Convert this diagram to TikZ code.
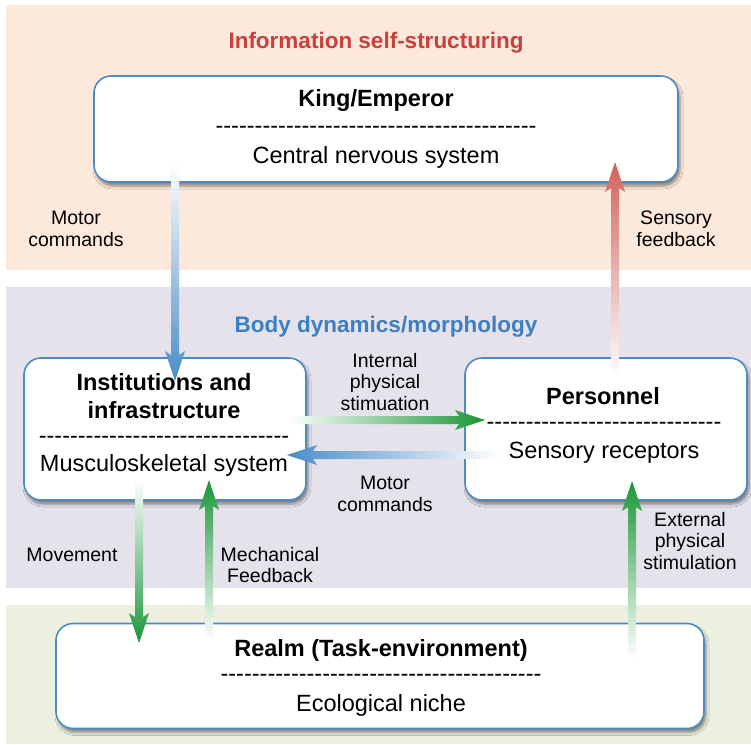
\documentclass[tikz,border=0pt]{standalone}
\usepackage{fontspec}
\setmainfont{Liberation Sans}
\usetikzlibrary{calc,shadows.blur}

\definecolor{bandpeach}{HTML}{FDE9DB}
\definecolor{bandlilac}{HTML}{E5E2EC}
\definecolor{bandgreen}{HTML}{EDF0E1}
\definecolor{titlered}{HTML}{C8413D}
\definecolor{titleblue}{HTML}{3C7FC2}
\definecolor{boxblue}{HTML}{4D8AC4}
\definecolor{arrblue}{HTML}{4A8CC8}
\definecolor{arrgreen}{HTML}{1A9638}
\definecolor{arrred}{HTML}{D0625B}

% a row of separate hyphens (kept apart so no dash ligature forms)
\newcommand\dashrow[1]{\foreach \k in {1,...,#1}{-\kern0pt}}

% block arrow with a colour gradient: #1 start, #2 tip, #3 shading keys
\newcommand\gradarrow[3]{%
  \coordinate (ga-hb) at ($(#2)!30pt!(#1)$);
  \coordinate (ga-hn) at ($(#2)!26pt!(#1)$);
  \shade[#3] ($(#1)!4pt!90:(#2)$) -- ($(ga-hn)!4pt!90:(#2)$)
    -- ($(ga-hb)!10pt!90:(#2)$) -- (#2) -- ($(ga-hb)!10pt!-90:(#2)$)
    -- ($(ga-hn)!4pt!-90:(#2)$) -- ($(#1)!4pt!-90:(#2)$) -- cycle;
}

\tikzset{
  box/.style={draw=boxblue, line width=1.6pt, fill=white, rounded corners=17pt,
    inner sep=0pt, blur shadow={shadow xshift=2pt, shadow yshift=-4pt,
    shadow blur radius=3pt, shadow opacity=45}},
  boxhead/.style={font=\fontsize{23.5}{28}\selectfont\bfseries, inner sep=0pt, align=center},
  boxsub/.style={font=\fontsize{23.5}{28}\selectfont, inner sep=0pt},
  dashes/.style={font=\fontsize{23.5}{28}\selectfont, inner sep=0pt},
  lbl/.style={font=\fontsize{19.5}{21.5}\selectfont, inner sep=0pt, align=center},
  layertitle/.style={font=\fontsize{22.5}{26}\selectfont\bfseries, inner sep=0pt},
}

\begin{document}
\begin{tikzpicture}[x=1pt,y=-1pt]
\useasboundingbox (0,0) rectangle (751,744);

% layer bands
\fill[bandpeach] (6,5) rectangle (751,270);
\fill[bandlilac] (6,287) rectangle (751,588);
\fill[bandgreen] (6,605) rectangle (751,744);

\node[layertitle, text=titlered] (info) at (376,43) {Information self-structuring};
\node[layertitle, text=titleblue] (body) at (386,327) {Body dynamics/morphology};

% boxes
\node[box, minimum width=584pt, minimum height=106pt] (king) at (386,129) {};
\node[box, minimum width=282pt, minimum height=142pt] (inst) at (165,429) {};
\node[box, minimum width=282pt, minimum height=142pt] (pers) at (606,429) {};
\node[box, minimum width=648pt, minimum height=105pt] (realm) at (380,676) {};

% box texts
\node[boxhead] (king-t) at (376,100) {King/Emperor};
\node[dashes] (king-d) at (376,130) {\dashrow{41}};
\node[boxsub] (king-s) at (376,157) {Central nervous system};

\node[boxhead] (inst-t) at (164,396) {Institutions and\\infrastructure};
\node[dashes] (inst-d) at (164,440) {\dashrow{32}};
\node[boxsub] (inst-s) at (164,465) {Musculoskeletal system};

\node[boxhead] (pers-t) at (603,396) {Personnel};
\node[dashes] (pers-d) at (604,426) {\dashrow{30}};
\node[boxsub] (pers-s) at (604,453) {Sensory receptors};

\node[boxhead] (realm-t) at (381,650) {Realm (Task-environment)};
\node[dashes] (realm-d) at (381,678) {\dashrow{41}};
\node[boxsub] (realm-s) at (381,705) {Ecological niche};

% arrow end points
\coordinate (mc1-s) at (175,163);  \coordinate (mc1-t) at (175,381);
\coordinate (sf-s)  at (615,378);  \coordinate (sf-t)  at (615,162);
\coordinate (ip-s)  at (287,420);  \coordinate (ip-t)  at (485,420);
\coordinate (mc2-s) at (500,455);  \coordinate (mc2-t) at (287,455);
\coordinate (mv-s)  at (139,478);  \coordinate (mv-t)  at (139,643);
\coordinate (mf-s)  at (209,640);  \coordinate (mf-t)  at (209,480);
\coordinate (ex-s)  at (632,658);  \coordinate (ex-t)  at (632,481);

\gradarrow{mc1-s}{mc1-t}{top color=white, bottom color=arrblue}
\gradarrow{sf-s}{sf-t}{bottom color=white, top color=arrred}
\gradarrow{ip-s}{ip-t}{left color=white, right color=arrgreen}
\gradarrow{mc2-s}{mc2-t}{right color=white, left color=arrblue}
\gradarrow{mv-s}{mv-t}{top color=white, bottom color=arrgreen}
\gradarrow{mf-s}{mf-t}{bottom color=white, top color=arrgreen}
\gradarrow{ex-s}{ex-t}{bottom color=white, top color=arrgreen}

% arrow labels
\node[lbl] (l-mc1) at (76,229) {Motor\\commands};
\node[lbl] (l-sf) at (676,229) {Sensory\\feedback};
\node[lbl] (l-ip) at (385,382) {Internal\\physical\\stimuation};
\node[lbl] (l-mc2) at (385,494) {Motor\\commands};
\node[lbl] (l-mv) at (72,555) {Movement};
\node[lbl] (l-mf) at (270,565) {Mechanical\\Feedback};
\node[lbl] (l-ex) at (690,541) {External\\physical\\stimulation};
\end{tikzpicture}
\end{document}
